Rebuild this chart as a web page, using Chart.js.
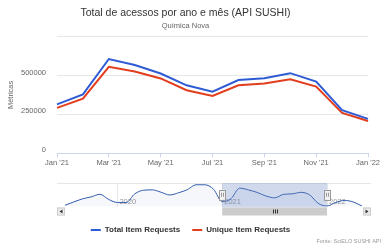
<!DOCTYPE html>
<html>
<head>
<meta charset="utf-8">
<title>Total de acessos por ano e mês (API SUSHI)</title>
<script src="https://cdn.jsdelivr.net/npm/chart.js@4.4.0/dist/chart.umd.min.js"></script>
<style>
  body { margin: 0; background: #fff; }
  #wrap { position: relative; width: 381px; height: 251px; }
  #main_chart { position: absolute; left: 0; top: 0; }
  #nav_chart { position: absolute; left: 0; top: 172px; }
</style>
</head>
<body>
<div id="wrap">
  <canvas id="main_chart" width="381" height="172"></canvas>
  <canvas id="nav_chart" width="381" height="79"></canvas>
</div>
<script>
// monthly data shown in the main chart (selected range Jan '21 - Jan '22)
var months = ["Jan '21", "Feb '21", "Mar '21", "Apr '21", "May '21", "Jun '21", "Jul '21",
              "Aug '21", "Sep '21", "Oct '21", "Nov '21", "Dec '21", "Jan '22"];
var totalItemRequests = [314000, 379000, 606000, 567000, 513000, 437000, 396000,
                         471000, 482000, 515000, 461000, 277000, 221000];
var uniqueItemRequests = [292000, 351000, 556000, 526000, 481000, 405000, 368000,
                          437000, 448000, 476000, 429000, 260000, 208000];
var yTicks = [0, 250000, 500000, 750000];

// full period shown in the navigator (total item requests)
var navMonths = ["2019-07", "2019-08", "2019-09", "2019-10", "2019-11", "2019-12",
                 "2020-01", "2020-02", "2020-03", "2020-04", "2020-05", "2020-06",
                 "2020-07", "2020-08", "2020-09", "2020-10", "2020-11", "2020-12",
                 "2021-01", "2021-02", "2021-03", "2021-04", "2021-05", "2021-06",
                 "2021-07", "2021-08", "2021-09", "2021-10", "2021-11", "2021-12",
                 "2022-01", "2022-02", "2022-03", "2022-04", "2022-05"];
var navTotals = [238000, 308000, 374000, 418000, 473000, 363000,
                 297000, 297000, 484000, 561000, 568000, 517000,
                 458000, 506000, 572000, 678000, 678000, 583000,
                 314000, 379000, 606000, 567000, 513000, 437000,
                 396000, 471000, 482000, 515000, 461000, 277000,
                 221000, 297000, 341000, 308000, 220000];
var rangeStart = "2021-01";
var rangeEnd = "2022-01";

var FONT = "'Liberation Sans', Arial, sans-serif";
var BLUE = "#2f5cd4";
var RED = "#e23d1d";

var ctx = document.getElementById('main_chart').getContext('2d');
var mainChart = new Chart(ctx, {
    type: "line",
    data: {
        labels: months,
        datasets: [
            {
                label: "Total Item Requests",
                data: totalItemRequests,
                borderColor: BLUE,
                backgroundColor: BLUE,
                borderWidth: 2,
                pointRadius: 0,
                tension: 0
            },
            {
                label: "Unique Item Requests",
                data: uniqueItemRequests,
                borderColor: RED,
                backgroundColor: RED,
                borderWidth: 2,
                pointRadius: 0,
                tension: 0
            }
        ]
    },
    options: {
        responsive: false,
        animation: false,
        layout: { padding: { left: 0, right: 10, top: 0, bottom: 0 } },
        plugins: {
            legend: { display: false },
            tooltip: { enabled: false },
            title: {
                display: true,
                text: "Total de acessos por ano e mês (API SUSHI)",
                color: "#333333",
                font: { family: FONT, size: 10.5, weight: "normal" },
                padding: { top: 7, bottom: 1 }
            },
            subtitle: {
                display: true,
                text: "Química Nova",
                color: "#666666",
                font: { family: FONT, size: 7.5 },
                padding: { top: 1, bottom: 6 }
            }
        },
        scales: {
            x: {
                grid: {
                    drawOnChartArea: false,
                    tickLength: 4,
                    tickColor: function (c) { return c.index % 2 ? "rgba(0,0,0,0)" : "#ccd6eb"; }
                },
                border: { color: "#ccd6eb" },
                ticks: {
                    autoSkip: false,
                    maxRotation: 0,
                    padding: 1,
                    color: "#666666",
                    font: { family: FONT, size: 7.5 },
                    callback: function (value, index) {
                        return index % 2 ? "" : this.getLabelForValue(value);
                    }
                },
                afterFit: function (scale) { scale.height = 18.7; }
            },
            y: {
                min: yTicks[0],
                max: yTicks[yTicks.length - 1],
                afterBuildTicks: function (scale) {
                    scale.ticks = yTicks.map(function (v) { return { value: v }; });
                },
                grid: { color: "#e6e6e6", drawTicks: false },
                border: { display: false },
                ticks: {
                    padding: 11,
                    labelOffset: -3,
                    color: "#666666",
                    font: { family: FONT, size: 7.5 },
                    callback: function (v) { return v === 750000 ? "" : String(v); }
                },
                title: {
                    display: true,
                    text: "Métricas",
                    color: "#666666",
                    font: { family: FONT, size: 7.5 },
                    padding: { top: 6, bottom: 0 }
                },
                afterFit: function (scale) { scale.width = 57; }
            }
        }
    }
});

// draws the navigator outline, selected range mask, handles and scrollbar
var navigatorDecor = {
    id: "navigatorDecor",
    beforeDraw: function (chart) {
        var c = chart.ctx, a = chart.chartArea;
        c.save();
        c.strokeStyle = "#e6e6e6";
        c.lineWidth = 1;
        c.beginPath();
        c.moveTo(57, a.top + 0.5);
        c.lineTo(371, a.top + 0.5);
        c.stroke();
        c.restore();
    },
    afterDraw: function (chart) {
        var c = chart.ctx, a = chart.chartArea, xs = chart.scales.x;
        var x0 = xs.getPixelForValue(navMonths.indexOf(rangeStart));
        var x1 = xs.getPixelForValue(navMonths.indexOf(rangeEnd));
        c.save();
        // selected range mask
        c.fillStyle = "rgba(102,133,194,0.3)";
        c.fillRect(x0, a.top, x1 - x0, a.bottom - a.top + 1);
        // handles
        var hy = (a.top + a.bottom) / 2;
        [x0, x1].forEach(function (hx) {
            c.fillStyle = "#f2f2f2";
            c.strokeStyle = "#999999";
            c.lineWidth = 1;
            c.fillRect(hx - 3, hy - 5, 6, 10);
            c.strokeRect(Math.round(hx - 3) + 0.5, Math.round(hy - 5) + 0.5, 6, 10);
            c.beginPath();
            c.moveTo(Math.round(hx) - 0.5, hy - 2);
            c.lineTo(Math.round(hx) - 0.5, hy + 2);
            c.moveTo(Math.round(hx) + 1.5, hy - 2);
            c.lineTo(Math.round(hx) + 1.5, hy + 2);
            c.stroke();
        });
        // scrollbar
        var sy = a.bottom + 1, sh = 8;
        c.fillStyle = "#cccccc";
        c.fillRect(x0, sy, x1 - x0, sh);
        c.strokeStyle = "#333333";
        var mid = Math.round((x0 + x1) / 2);
        c.beginPath();
        [-2, 0, 2].forEach(function (d) {
            c.moveTo(mid + d + 0.5, sy + 2);
            c.lineTo(mid + d + 0.5, sy + sh - 2);
        });
        c.stroke();
        // scrollbar buttons
        [[57, -1], [363, 1]].forEach(function (b) {
            c.fillStyle = "#ebebeb";
            c.strokeStyle = "#cccccc";
            c.fillRect(b[0], sy, 8, sh);
            c.strokeRect(b[0] + 0.5, sy + 0.5, 7, sh - 1);
            c.fillStyle = "#333333";
            c.beginPath();
            var cx = b[0] + 4, cy = sy + sh / 2;
            c.moveTo(cx - b[1] * 1.5, cy - 2);
            c.lineTo(cx + b[1] * 1.5, cy);
            c.lineTo(cx - b[1] * 1.5, cy + 2);
            c.closePath();
            c.fill();
        });
        c.restore();
    }
};

var navCtx = document.getElementById('nav_chart').getContext('2d');
var navChart = new Chart(navCtx, {
    type: "line",
    data: {
        labels: navMonths,
        datasets: [
            {
                label: "Total Item Requests",
                data: navTotals,
                borderColor: "#335cad",
                backgroundColor: "rgba(51,92,173,0.05)",
                fill: true,
                borderWidth: 1,
                pointRadius: 0,
                cubicInterpolationMode: "monotone"
            }
        ]
    },
    options: {
        responsive: false,
        animation: false,
        layout: { padding: { left: 0, right: 0, top: 11, bottom: 0 } },
        plugins: {
            tooltip: { enabled: false },
            legend: {
                display: true,
                position: "bottom",
                onClick: null,
                labels: {
                    boxWidth: 10,
                    boxHeight: 2,
                    padding: 12,
                    color: "#333333",
                    font: { family: FONT, size: 8, weight: "bold" },
                    generateLabels: function () {
                        return mainChart.data.datasets.map(function (ds) {
                            return {
                                text: ds.label,
                                fillStyle: ds.borderColor,
                                strokeStyle: ds.borderColor,
                                lineWidth: 0,
                                fontColor: "#333333"
                            };
                        });
                    }
                }
            },
            subtitle: {
                display: true,
                position: "bottom",
                align: "end",
                text: "Fonte: SciELO SUSHI API",
                color: "#999999",
                font: { family: FONT, size: 5.5 },
                padding: { top: -6.3, bottom: 6.7 }
            }
        },
        scales: {
            x: {
                grid: {
                    drawTicks: false,
                    color: function (c) {
                        var t = c.tick && navMonths[c.tick.value];
                        return t && t.slice(5) === "01" ? "#e6e6e6" : "rgba(0,0,0,0)";
                    }
                },
                border: { display: false },
                ticks: {
                    autoSkip: false,
                    maxRotation: 0,
                    mirror: true,
                    align: "start",
                    padding: 0,
                    labelOffset: 2,
                    color: "#999999",
                    font: { family: FONT, size: 7.5 },
                    callback: function (value) {
                        var m = navMonths[value];
                        return m.slice(5) === "01" ? m.slice(0, 4) : "";
                    }
                },
                afterFit: function (scale) { scale.height = 7.5; }
            },
            y: {
                min: 210000,
                max: 716000,
                ticks: { display: false },
                grid: { display: false },
                border: { display: false },
                afterFit: function (scale) { scale.width = 65; }
            },
            yr: {
                position: "right",
                min: 0,
                max: 1,
                ticks: { display: false },
                grid: { display: false },
                border: { display: false },
                afterFit: function (scale) { scale.width = 19; }
            }
        }
    },
    plugins: [navigatorDecor]
});
</script>
</body>
</html>
